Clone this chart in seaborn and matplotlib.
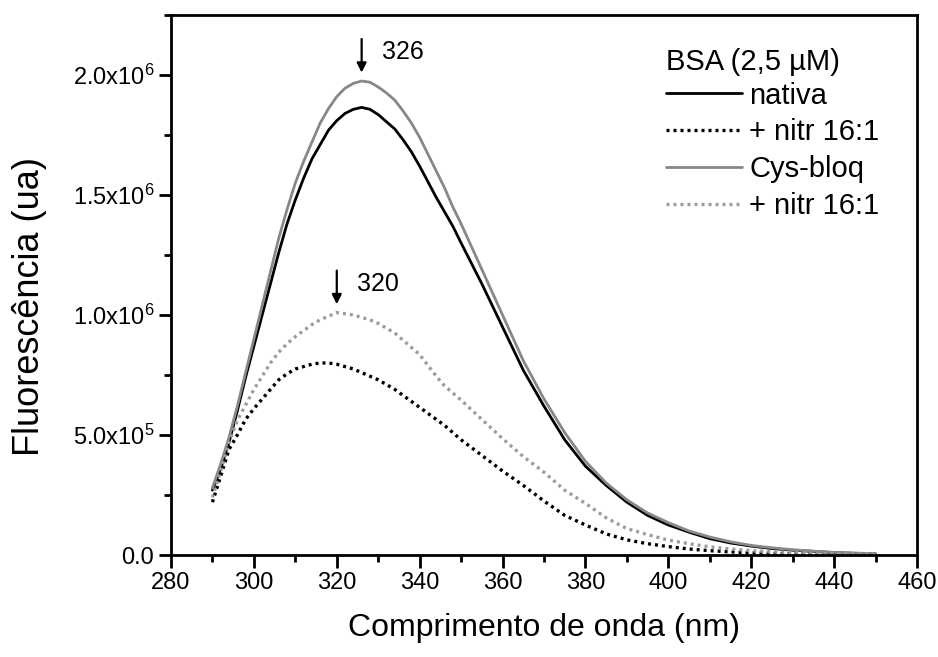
import numpy as np
import pandas as pd
import matplotlib
matplotlib.use("Agg")
import matplotlib.pyplot as plt
from matplotlib.ticker import MultipleLocator, FuncFormatter
import seaborn as sns

# ---------------- data ----------------
wavelength = [290, 292, 294, 296, 298, 300, 302, 304, 306, 308, 310, 312, 314, 316, 318,
              320, 322, 324, 326, 328, 330, 332, 334, 336, 338, 340, 342, 344, 346, 348, 350,
              355, 360, 365, 370, 375, 380, 385, 390, 395, 400, 405, 410, 415, 420, 425,
              430, 435, 440, 445, 450]

nativa = [0.27, 0.36, 0.47, 0.60, 0.74, 0.87, 1.00, 1.13, 1.26, 1.38, 1.48, 1.57, 1.65, 1.71, 1.77,
          1.81, 1.84, 1.857, 1.865, 1.857, 1.835, 1.805, 1.775, 1.73, 1.68, 1.62, 1.555, 1.49, 1.43, 1.37, 1.30,
          1.13, 0.95, 0.77, 0.62, 0.48, 0.37, 0.29, 0.22, 0.165, 0.125, 0.095, 0.068, 0.05, 0.037, 0.027,
          0.02, 0.015, 0.01, 0.007, 0.005]

nativa_nitr = [0.22, 0.33, 0.44, 0.50, 0.565, 0.61, 0.65, 0.69, 0.73, 0.755, 0.775, 0.785, 0.795, 0.80, 0.80,
               0.795, 0.785, 0.775, 0.76, 0.745, 0.73, 0.71, 0.69, 0.665, 0.64, 0.615, 0.59, 0.565, 0.54, 0.51, 0.48,
               0.415, 0.35, 0.29, 0.225, 0.165, 0.125, 0.088, 0.063, 0.047, 0.035, 0.025, 0.018, 0.013, 0.009, 0.007,
               0.005, 0.004, 0.003, 0.002, 0.002]

cys_bloq = [0.28, 0.38, 0.49, 0.62, 0.76, 0.90, 1.04, 1.18, 1.32, 1.44, 1.55, 1.64, 1.72, 1.80, 1.86,
            1.91, 1.945, 1.965, 1.975, 1.97, 1.95, 1.925, 1.895, 1.85, 1.80, 1.74, 1.67, 1.60, 1.53, 1.45, 1.38,
            1.19, 1.00, 0.81, 0.65, 0.51, 0.39, 0.30, 0.23, 0.175, 0.135, 0.10, 0.075, 0.055, 0.04, 0.03,
            0.022, 0.016, 0.011, 0.008, 0.006]

cys_bloq_nitr = [0.24, 0.35, 0.47, 0.56, 0.625, 0.69, 0.745, 0.80, 0.845, 0.88, 0.91, 0.935, 0.96, 0.98, 0.995,
                 1.01, 1.005, 1.0, 0.99, 0.98, 0.965, 0.945, 0.925, 0.895, 0.865, 0.835, 0.79, 0.745, 0.705, 0.675, 0.645,
                 0.565, 0.485, 0.41, 0.345, 0.27, 0.215, 0.155, 0.11, 0.085, 0.062, 0.047, 0.034, 0.025, 0.018, 0.013,
                 0.01, 0.007, 0.005, 0.004, 0.003]

scale = 1e6
labels = ["nativa", "+ nitr 16:1", "Cys-bloq", "+ nitr 16:1"]
legend_title = "BSA (2,5 \u00b5M)"
x_label = "Comprimento de onda (nm)"
y_label = "Fluoresc\u00eancia (ua)"
peak_labels = [(326, 1.975, "326"), (320, 1.01, "320")]

# ---------------- style ----------------
sns.set_theme(style="white")
plt.rcParams["font.family"] = ["Liberation Sans", "DejaVu Sans"]
plt.rcParams["mathtext.default"] = "regular"
plt.rcParams["axes.linewidth"] = 2.0

fig = plt.figure(figsize=(9.38, 6.57), dpi=100)
ax = fig.add_axes([171 / 938, 1 - 555 / 657, 746 / 938, 540 / 657])

series = [nativa, nativa_nitr, cys_bloq, cys_bloq_nitr]
colors = ["#000000", "#000000", "#888888", "#9c9c9c"]
styles = ["-", (0, (0.9, 1.2)), "-", (0, (0.9, 1.2))]
widths = [2.0, 2.4, 2.0, 2.4]

for vals, lab, col, ls, lw in zip(series, labels, colors, styles, widths):
    df = pd.DataFrame({"x": wavelength, "y": np.array(vals) * scale})
    sns.lineplot(data=df, x="x", y="y", ax=ax, color=col, linestyle=ls,
                 linewidth=lw, label=lab, estimator=None, sort=False)

ax.set_xlim(280, 460)
ax.set_ylim(0, 2.25e6)

ax.xaxis.set_major_locator(MultipleLocator(20))
ax.xaxis.set_minor_locator(MultipleLocator(10))
ax.yaxis.set_major_locator(MultipleLocator(5e5))
ax.yaxis.set_minor_locator(MultipleLocator(2.5e5))


def fmt(v, pos):
    if abs(v) < 1:
        return "0.0"
    if v < 0:
        return ""
    e = int(np.floor(np.log10(v) + 1e-9))
    m = v / 10 ** e
    return f"{m:.1f}x10$^{{{e}}}$"


ax.yaxis.set_major_formatter(FuncFormatter(fmt))
ax.tick_params(axis="both", which="major", direction="out", length=9, width=2,
               labelsize=17, color="black", labelcolor="black", pad=3,
               bottom=True, left=True, top=False, right=False)
ax.tick_params(axis="both", which="minor", direction="out", length=5, width=2,
               color="black", bottom=True, left=True, top=False, right=False)

for sp in ax.spines.values():
    sp.set_color("black")
    sp.set_linewidth(2.0)

ax.set_xlabel(x_label, fontsize=23, color="black", labelpad=14)
ax.set_ylabel(y_label, fontsize=26, color="black")
ax.yaxis.set_label_coords(-0.166, 0.46)

# peak arrows
for px, py, txt in peak_labels:
    ax.annotate("", xy=(px, (py + 0.035) * scale), xytext=(px, (py + 0.175) * scale),
                arrowprops=dict(arrowstyle="-|>", color="black", lw=1.6,
                                mutation_scale=14, shrinkA=0, shrinkB=0))
    ax.text(px + 4.8, (py + 0.12) * scale, txt, fontsize=18, color="black",
            va="center", ha="left")

leg = ax.legend(title=legend_title, loc="upper left",
                bbox_to_anchor=(666 / 938, 1 - 48 / 657), bbox_transform=fig.transFigure,
                frameon=False, fontsize=21, title_fontsize=21, handlelength=2.6,
                handletextpad=0.25, labelspacing=0.3, borderpad=0, borderaxespad=0,
                alignment="left")
leg._legend_box.sep = 4
for t in leg.get_texts():
    t.set_color("black")
leg.get_title().set_color("black")

fig.savefig("out.png", dpi=100, facecolor="white")
